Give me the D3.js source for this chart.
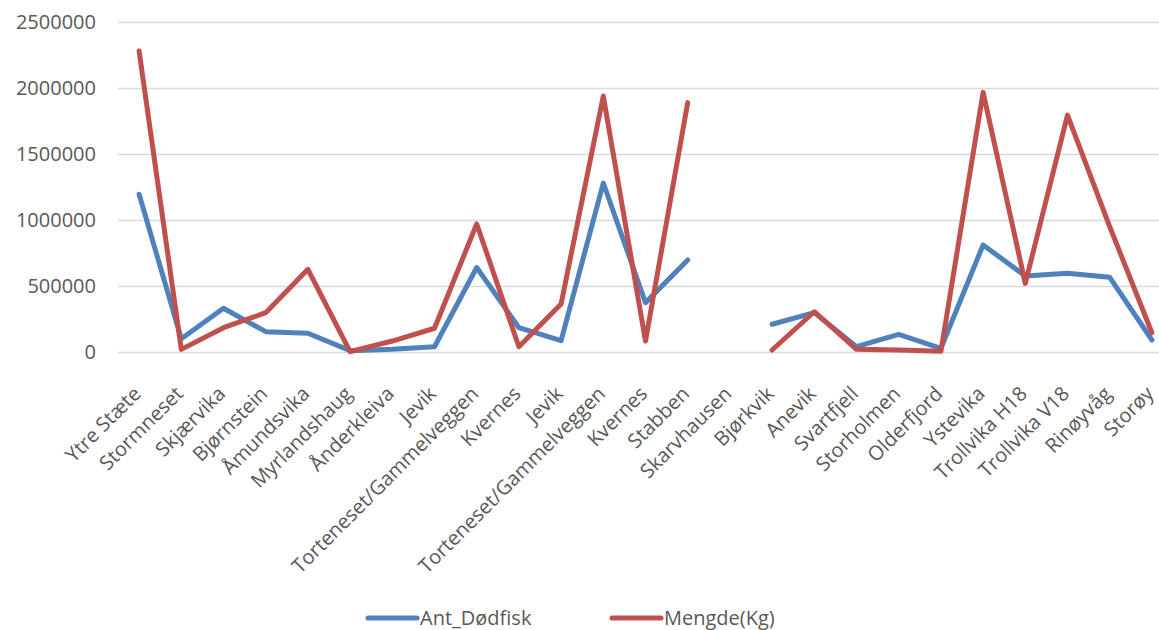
<!DOCTYPE html>
<html>
<head>
<meta charset="utf-8">
<script src="https://cdn.jsdelivr.net/npm/d3@7"></script>
<style>
  body { margin: 0; background: #fff; }
  svg { display: block; font-family: "Open Sans", sans-serif; }
</style>
</head>
<body>
<svg id="chart" width="1159" height="630"></svg>
<script>
var categories = [
  'Ytre Stæte', 'Stormneset', 'Skjærvika', 'Bjørnstein', 'Åmundsvika',
  'Myrlandshaug', 'Ånderkleiva', 'Jevik', 'Torteneset/Gammelveggen', 'Kvernes',
  'Jevik', 'Torteneset/Gammelveggen', 'Kvernes', 'Stabben', 'Skarvhausen',
  'Bjørkvik', 'Anevik', 'Svartfjell', 'Storholmen', 'Olderfjord',
  'Ystevika', 'Trollvika H18', 'Trollvika V18', 'Rinøyvåg', 'Storøy'
];

var antDodfisk = [
  1195000, 100000, 331000, 154000, 142000,
  10000, 20000, 40000, 640000, 184000,
  86000, 1280000, 374000, 697000, null,
  210000, 298000, 40000, 134000, 28000,
  811000, 576000, 596000, 566000, 91000
];

var mengde = [
  2280000, 20000, 184000, 298000, 626000,
  3000, 83000, 180000, 970000, 40000,
  364000, 1939000, 83000, 1889000, null,
  15000, 305000, 20000, 15000, 5000,
  1967000, 520000, 1795000, 950000, 146000
];

var yTicks = [0, 500000, 1000000, 1500000, 2000000, 2500000];

var series = [
  { name: 'Ant_Dødfisk', values: antDodfisk, color: '#4F81BD' },
  { name: 'Mengde(Kg)', values: mengde, color: '#C0504D' }
];

var svg = d3.select('#chart');
var plotLeft = 118;
var step = 42.2;
var plotTop = 22;
var plotBottom = 352;

var x = d3.scaleBand()
  .domain(d3.range(categories.length))
  .range([plotLeft, plotLeft + step * categories.length]);

var y = d3.scaleLinear()
  .domain([0, 2500000])
  .range([plotBottom, plotTop]);

function getX(i) {
  return x(i) + x.bandwidth() / 2;
}

// Gridlines and y labels
var yAxis = d3.axisLeft(y)
  .tickValues(yTicks)
  .tickSize(-(1159 - plotLeft))
  .tickPadding(22)
  .tickFormat(d3.format('d'));

var yG = svg.append('g')
  .attr('transform', 'translate(' + plotLeft + ',0)')
  .call(yAxis);
yG.select('.domain').remove();
yG.selectAll('.tick line')
  .attr('stroke', '#d9d9d9')
  .attr('stroke-width', 1.5);
yG.selectAll('.tick text')
  .attr('fill', '#595959')
  .style('font-size', '20px')
  .style('font-family', '"Open Sans", sans-serif');

// Category labels
var xAxis = d3.axisBottom(x)
  .tickSize(0)
  .tickFormat(function(i) { return categories[i]; });

var xG = svg.append('g')
  .attr('transform', 'translate(0,' + plotBottom + ')')
  .call(xAxis);
xG.select('.domain').remove();
xG.selectAll('.tick text')
  .attr('fill', '#595959')
  .style('font-size', '20px')
  .style('font-family', '"Open Sans", sans-serif')
  .attr('text-anchor', 'end')
  .attr('dy', null)
  .attr('y', 0)
  .attr('transform', 'translate(3,43) rotate(-45)');

// Lines
var line = d3.line()
  .defined(function(d) { return d != null; })
  .x(function(d, i) { return getX(i); })
  .y(function(d) { return y(d); });

svg.selectAll('.series')
  .data(series)
  .enter()
  .append('path')
  .classed('series', true)
  .attr('d', function(s) { return line(s.values); })
  .attr('fill', 'none')
  .attr('stroke', function(s) { return s.color; })
  .attr('stroke-width', 5)
  .attr('stroke-linejoin', 'round')
  .attr('stroke-linecap', 'round');

// Legend
var legendX = [368, 612];
var legend = svg.selectAll('.legend')
  .data(series)
  .enter()
  .append('g')
  .classed('legend', true)
  .attr('transform', function(s, i) { return 'translate(' + legendX[i] + ',618)'; });

legend.append('line')
  .attr('x1', 0)
  .attr('x2', 49)
  .attr('stroke', function(s) { return s.color; })
  .attr('stroke-width', 5)
  .attr('stroke-linecap', 'round');

legend.append('text')
  .attr('x', 52)
  .attr('dy', '0.35em')
  .attr('fill', '#595959')
  .style('font-size', '20px')
  .text(function(s) { return s.name; });
</script>
</body>
</html>
